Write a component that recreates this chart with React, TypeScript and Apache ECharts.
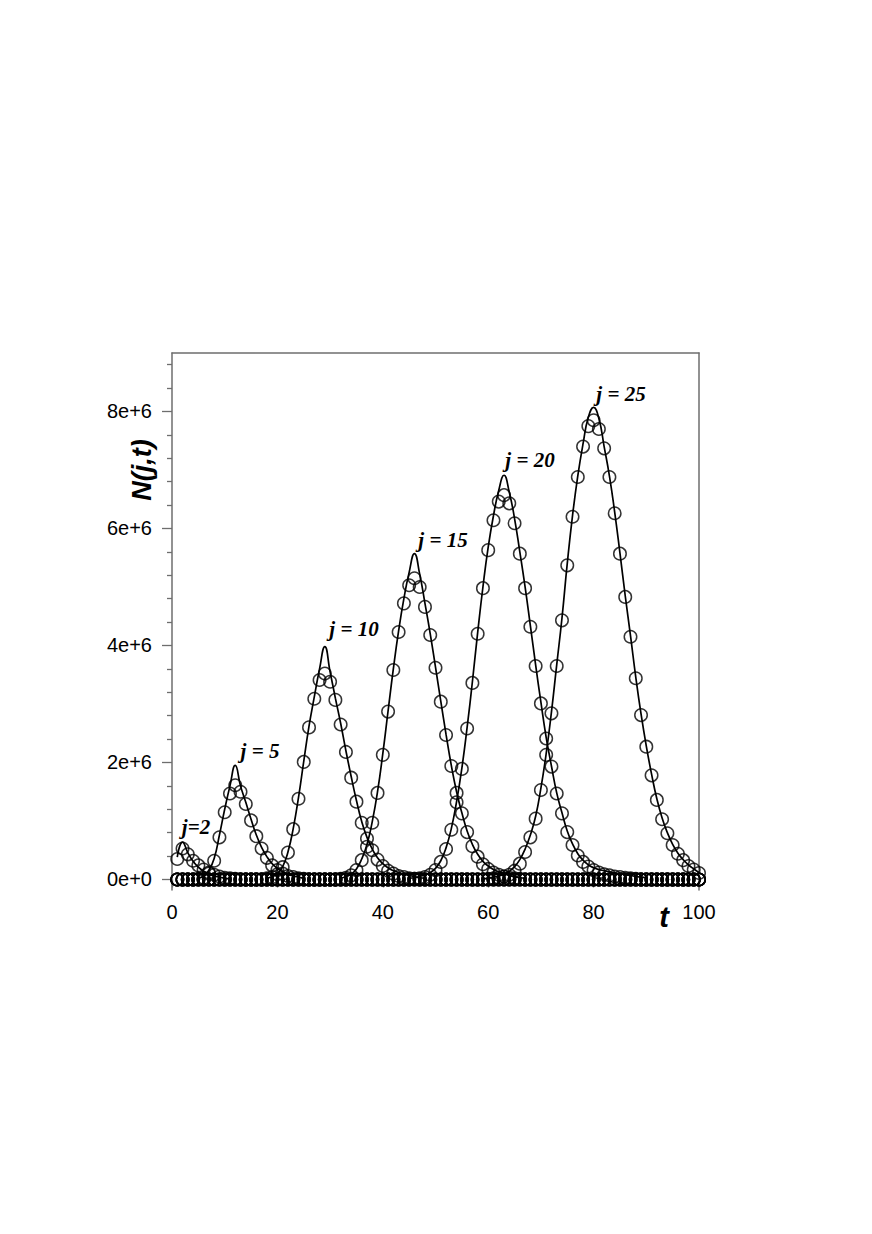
import React, { useEffect, useRef } from "react";
import * as echarts from "echarts";

// time steps (t) where the simulated points are plotted
const T_MIN = 1;
const T_MAX = 100;

// axis ticks (y values in millions)
const xTickValues = [0, 20, 40, 60, 80, 100];
const yMajorValues = [0, 2, 4, 6, 8];
const yMajorLabels = ["0e+0", "2e+6", "4e+6", "6e+6", "8e+6"];
const yMinorValues = [0.4, 0.8, 1.2, 1.6, 2.4, 2.8, 3.2, 3.6, 4.4, 4.8, 5.2, 5.6, 6.4, 6.8, 7.2, 7.6, 8.4, 8.8];

// simulated N(j,t) (circles), millions; value 0 outside the listed range
const j2CircleStart = 1;
const j2Circles = [0.35, 0.53, 0.43, 0.32, 0.24, 0.17, 0.12, 0.08, 0.05, 0.03, 0.02, 0.01];
const j5CircleStart = 5;
const j5Circles = [0.01, 0.03, 0.1, 0.32, 0.72, 1.15, 1.47, 1.61, 1.5, 1.29, 1.01, 0.74, 0.53, 0.37, 0.24, 0.16, 0.1, 0.06, 0.04, 0.02, 0.01];
const j10CircleStart = 18;
const j10Circles = [0.02, 0.04, 0.09, 0.21, 0.46, 0.86, 1.38, 2.01, 2.6, 3.09, 3.41, 3.52, 3.38, 3.07, 2.65, 2.18, 1.74, 1.33, 0.97, 0.7, 0.5, 0.34, 0.23, 0.15, 0.1, 0.06, 0.04, 0.02, 0.01];
const j15CircleStart = 32;
const j15Circles = [0.01, 0.03, 0.07, 0.16, 0.33, 0.56, 0.97, 1.48, 2.13, 2.87, 3.58, 4.23, 4.72, 5.03, 5.15, 5.0, 4.66, 4.18, 3.62, 3.04, 2.47, 1.94, 1.48, 1.13, 0.81, 0.57, 0.39, 0.26, 0.18, 0.12, 0.08, 0.05, 0.03, 0.02, 0.01];
const j20CircleStart = 46;
const j20Circles = [0.01, 0.02, 0.04, 0.08, 0.16, 0.3, 0.52, 0.85, 1.32, 1.89, 2.58, 3.36, 4.2, 4.98, 5.63, 6.14, 6.46, 6.57, 6.43, 6.09, 5.57, 4.98, 4.32, 3.65, 3.01, 2.41, 1.93, 1.47, 1.13, 0.81, 0.59, 0.41, 0.3, 0.22, 0.16, 0.12, 0.09, 0.07, 0.05, 0.04, 0.03, 0.02, 0.01];
const j25CircleStart = 60;
const j25Circles = [0.01, 0.02, 0.03, 0.05, 0.08, 0.15, 0.27, 0.47, 0.72, 1.04, 1.53, 2.13, 2.84, 3.65, 4.43, 5.37, 6.2, 6.88, 7.4, 7.75, 7.85, 7.7, 7.37, 6.88, 6.26, 5.57, 4.83, 4.15, 3.44, 2.81, 2.27, 1.78, 1.36, 1.03, 0.79, 0.59, 0.44, 0.33, 0.23, 0.17, 0.11];

// theoretical N(j,t) (solid lines), millions
const j2LineStart = 1;
const j2Line = [0.38, 0.64, 0.46, 0.31, 0.21, 0.14, 0.09, 0.06, 0.04, 0.02, 0.01];
const j5LineStart = 5;
const j5Line = [0.02, 0.06, 0.16, 0.36, 0.76, 1.2, 1.6, 1.95, 1.6, 1.32, 1.03, 0.76, 0.55, 0.39, 0.27, 0.19, 0.13, 0.09, 0.06, 0.04, 0.02];
const j10LineStart = 18;
const j10Line = [0.02, 0.05, 0.1, 0.22, 0.47, 0.87, 1.4, 2.02, 2.62, 3.12, 3.6, 3.98, 3.55, 3.1, 2.67, 2.2, 1.76, 1.35, 0.99, 0.72, 0.52, 0.37, 0.27, 0.2, 0.15, 0.12, 0.09, 0.07, 0.05, 0.03, 0.02];
const j15LineStart = 32;
const j15Line = [0.02, 0.05, 0.09, 0.18, 0.35, 0.6, 0.99, 1.5, 2.15, 2.88, 3.6, 4.25, 4.8, 5.25, 5.57, 5.22, 4.72, 4.2, 3.63, 3.05, 2.48, 1.95, 1.5, 1.14, 0.83, 0.6, 0.43, 0.31, 0.23, 0.17, 0.13, 0.1, 0.07, 0.05, 0.03, 0.02];
const j20LineStart = 45;
const j20Line = [0.02, 0.03, 0.05, 0.08, 0.12, 0.19, 0.32, 0.54, 0.87, 1.33, 1.9, 2.6, 3.38, 4.22, 5.0, 5.68, 6.22, 6.65, 6.91, 6.62, 6.17, 5.6, 5.0, 4.34, 3.67, 3.03, 2.43, 1.94, 1.48, 1.14, 0.83, 0.61, 0.44, 0.33, 0.25, 0.2, 0.17, 0.15, 0.13, 0.11, 0.1, 0.08, 0.07, 0.05, 0.04, 0.03];
const j25LineStart = 59;
const j25Line = [0.01, 0.02, 0.04, 0.06, 0.09, 0.14, 0.22, 0.34, 0.52, 0.76, 1.08, 1.56, 2.15, 2.86, 3.67, 4.47, 5.4, 6.22, 6.9, 7.45, 7.9, 8.07, 7.88, 7.4, 6.9, 6.28, 5.58, 4.85, 4.17, 3.46, 2.83, 2.28, 1.8, 1.38, 1.05, 0.8, 0.6, 0.45, 0.34, 0.25, 0.18, 0.12];

const curves = [
  { circleStart: j2CircleStart, circles: j2Circles, lineStart: j2LineStart, line: j2Line },
  { circleStart: j5CircleStart, circles: j5Circles, lineStart: j5LineStart, line: j5Line },
  { circleStart: j10CircleStart, circles: j10Circles, lineStart: j10LineStart, line: j10Line },
  { circleStart: j15CircleStart, circles: j15Circles, lineStart: j15LineStart, line: j15Line },
  { circleStart: j20CircleStart, circles: j20Circles, lineStart: j20LineStart, line: j20Line },
  { circleStart: j25CircleStart, circles: j25Circles, lineStart: j25LineStart, line: j25Line },
];

const curveLabels = ["j=2", "j = 5", "j = 10", "j = 15", "j = 20", "j = 25"];
// pixel anchors for the curve labels
const labelPositions = [
  [196, 827],
  [260, 751],
  [354, 629],
  [443, 540],
  [530, 460],
  [621, 394],
];

export default function App() {
  const ref = useRef<HTMLDivElement>(null);

  useEffect(() => {
    const chart = echarts.init(ref.current as HTMLDivElement, null, { renderer: "svg" });

    const expand = (start: number, vals: number[]) => {
      const out: number[][] = [];
      for (let t = T_MIN; t <= T_MAX; t++) {
        const i = t - start;
        out.push([t, i >= 0 && i < vals.length ? vals[i] : 0]);
      }
      return out;
    };
    const toLine = (start: number, vals: number[]) => vals.map((v, i) => [start + i, v]);

    const series: any[] = [];
    curves.forEach((c) => {
      series.push({
        type: "line",
        data: toLine(c.lineStart, c.line),
        smooth: 0.5,
        showSymbol: false,
        silent: true,
        lineStyle: { color: "#000", width: 1.7 },
        z: 2,
      });
      series.push({
        type: "scatter",
        data: expand(c.circleStart, c.circles),
        symbol: "circle",
        symbolSize: 12.5,
        silent: true,
        itemStyle: { color: "rgba(0,0,0,0)", borderColor: "#000", borderWidth: 1.5 },
        z: 3,
      });
    });

    const sans = "'Liberation Sans', Arial, Helvetica, sans-serif";
    const serif = "'Liberation Serif', 'Times New Roman', serif";
    const frame = "#6e6e6e";

    const graphics: any[] = curveLabels.map((txt, i) => ({
      type: "text",
      x: labelPositions[i][0],
      y: labelPositions[i][1],
      silent: true,
      style: {
        text: txt,
        fill: "#000",
        font: `italic bold 21px ${serif}`,
        textAlign: "center",
        textVerticalAlign: "middle",
      },
    }));
    graphics.push({
      type: "text",
      x: 142,
      y: 470,
      rotation: Math.PI / 2,
      silent: true,
      style: {
        text: "N(j,t)",
        fill: "#000",
        font: `italic bold 27px ${sans}`,
        textAlign: "center",
        textVerticalAlign: "middle",
      },
    });
    graphics.push({
      type: "text",
      x: 664,
      y: 917,
      silent: true,
      style: {
        text: "t",
        fill: "#000",
        font: `italic bold 29px ${sans}`,
        textAlign: "center",
        textVerticalAlign: "middle",
      },
    });

    chart.setOption({
      animation: false,
      backgroundColor: "#fff",
      grid: { left: 172, top: 353, width: 527, height: 537, containLabel: false },
      xAxis: [
        {
          type: "value",
          position: "bottom",
          min: 0,
          max: 100,
          interval: 20,
          axisLine: { show: false },
          axisTick: { show: true, length: 8, customValues: xTickValues, lineStyle: { color: frame, width: 1.3 } },
          axisLabel: { fontSize: 20, color: "#000", fontFamily: sans, margin: 12, customValues: xTickValues },
          splitLine: { show: false },
        },
        {
          type: "value",
          position: "top",
          min: 0,
          max: 100,
          axisLine: { show: true, onZero: false, lineStyle: { color: frame, width: 1.5 } },
          axisTick: { show: false },
          axisLabel: { show: false },
          splitLine: { show: false },
        },
      ],
      yAxis: [
        {
          type: "value",
          position: "left",
          min: -0.18,
          max: 9,
          axisLine: { show: true, onZero: false, lineStyle: { color: frame, width: 1.5 } },
          axisTick: { show: true, length: 10, customValues: yMajorValues, lineStyle: { color: frame, width: 1.3 } },
          axisLabel: {
            customValues: yMajorValues,
            fontSize: 20,
            color: "#000",
            fontFamily: sans,
            margin: 20,
            formatter: (v: number) => {
              const i = yMajorValues.indexOf(Math.round(v * 1000) / 1000);
              return i >= 0 ? yMajorLabels[i] : "";
            },
          },
          splitLine: { show: false },
        },
        {
          type: "value",
          position: "left",
          min: -0.18,
          max: 9,
          axisLine: { show: false },
          axisTick: { show: true, length: 5, customValues: yMinorValues, lineStyle: { color: frame, width: 1.3 } },
          axisLabel: { show: false },
          splitLine: { show: false },
        },
        {
          type: "value",
          position: "right",
          min: -0.18,
          max: 9,
          axisLine: { show: true, onZero: false, lineStyle: { color: frame, width: 1.5 } },
          axisTick: { show: false },
          axisLabel: { show: false },
          splitLine: { show: false },
        },
      ],
      series,
      graphic: graphics,
    });

    return () => chart.dispose();
  }, []);

  return (
    <div
      ref={ref}
      style={{ position: "absolute", left: 0, top: 0, width: 872, height: 1234, background: "#fff" }}
    />
  );
}
